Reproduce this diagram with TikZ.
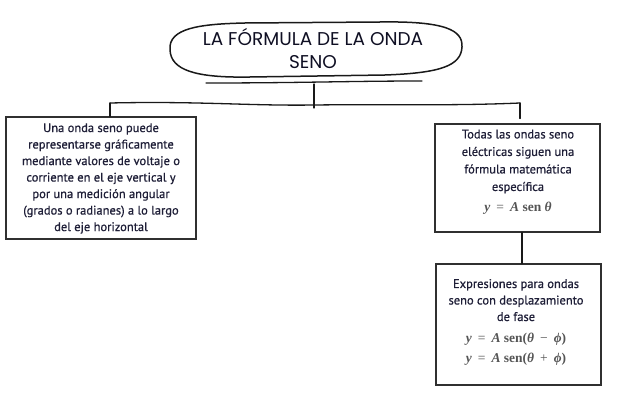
\documentclass[tikz,border=0pt]{standalone}
\usepackage{fontspec}
\setmainfont{PT Sans}
\newfontfamily\boxfont{PT Sans}[FakeBold=0.6]
\newfontfamily\titlefont{Poppins}
\newfontfamily\mathtxt{Liberation Serif}
\usetikzlibrary{calc}
\definecolor{txtc}{RGB}{30,30,55}
\definecolor{titc}{RGB}{15,15,35}
\definecolor{mathc}{RGB}{85,85,85}
\definecolor{linec}{RGB}{25,25,25}
\tikzset{
  conn/.style={draw=linec, line width=1.3pt, line cap=round},
  boxnode/.style={draw=linec!90, line width=1.1pt, rectangle, inner sep=0pt, fill=white},
  boxtext/.style={text=txtc, font=\boxfont\fontsize{12.5}{16.5}\selectfont, align=center, inner sep=0pt},
}
\newcommand{\mi}[1]{{\bfseries\itshape #1}}
\newcommand{\mth}[1]{{\color{mathc}\mathtxt\fontsize{13.5}{19}\selectfont #1}}
\newcommand{\msp}{\hspace{0.45em}}
\begin{document}
\begin{tikzpicture}[x=1pt,y=-1pt]
\useasboundingbox (0,0) rectangle (617,417);
% title
\draw[linec, line width=1.5pt] (170,50) .. controls (168,28) and (200,24) .. (245,23)
  -- (380,22) .. controls (445,21) and (463,30) .. (462,47)
  .. controls (461,66) and (440,73) .. (385,75)
  -- (250,77) .. controls (195,78) and (171,70) .. (170,50) -- cycle;
\node[text=titc, font=\titlefont\fontsize{18.5}{23}\selectfont, align=center, inner sep=0pt] (title) at (313,48) {LA FÓRMULA DE LA ONDA\\SENO};
% connectors
\coordinate (ul1) at (206,83);
\coordinate (ul2) at (422,81);
\draw[conn] (ul1) .. controls (300,83) and (350,81) .. (ul2);
\coordinate (tj) at (314,84);
\coordinate (hj) at (314,108);
\draw[conn] (tj) -- (hj);
\coordinate (hl) at (110,103);
\coordinate (hr) at (520,103);
\draw[conn] (hl) .. controls (200,101) and (250,106) .. (314,105)
  .. controls (400,104) and (450,106) .. (hr);
% boxes
\node[boxnode, minimum width=190pt, minimum height=122pt] (left) at (101,178) {};
\node[boxtext] (lefttext) at (101,178.5) {Una onda seno puede\\representarse gráficamente\\mediante valores de voltaje o\\corriente en el eje vertical y\\por una medición angular\\(grados o radianes) a lo largo\\del eje horizontal};
\node[boxnode, minimum width=165pt, minimum height=108pt] (r1) at (517.5,178) {};
\node[boxtext, font=\boxfont\fontsize{12.5}{17.5}\selectfont] (r1text) at (518,172) {Todas las ondas seno\\eléctricas siguen una\\fórmula matemática\\específica\\[3pt]\mth{\mi{y}\msp=\msp\mi{A} \textbf{sen} \mi{θ}}};
\node[boxnode, minimum width=165pt, minimum height=121pt] (r2) at (518.5,324.5) {};
\node[boxtext] (r2text) at (516,322.5) {Expresiones para ondas\\seno con desplazamiento\\de fase\\[5pt]\mth{\mi{y}\msp=\msp\mi{A} \textbf{sen(}\mi{θ}\msp−\msp\mi{ϕ}\textbf{)}}\\[4pt]\mth{\mi{y}\msp=\msp\mi{A} \textbf{sen(}\mi{θ}\msp+\msp\mi{ϕ}\textbf{)}}};
% drops
\draw[conn] (hl) -- (hl |- left.north);
\draw[conn] (hr) -- ($(hr |- r1.north)+(0,-5)$);
\draw[conn] (r1.south -| 522,0) -- (r2.north -| 522,0);
\end{tikzpicture}
\end{document}
